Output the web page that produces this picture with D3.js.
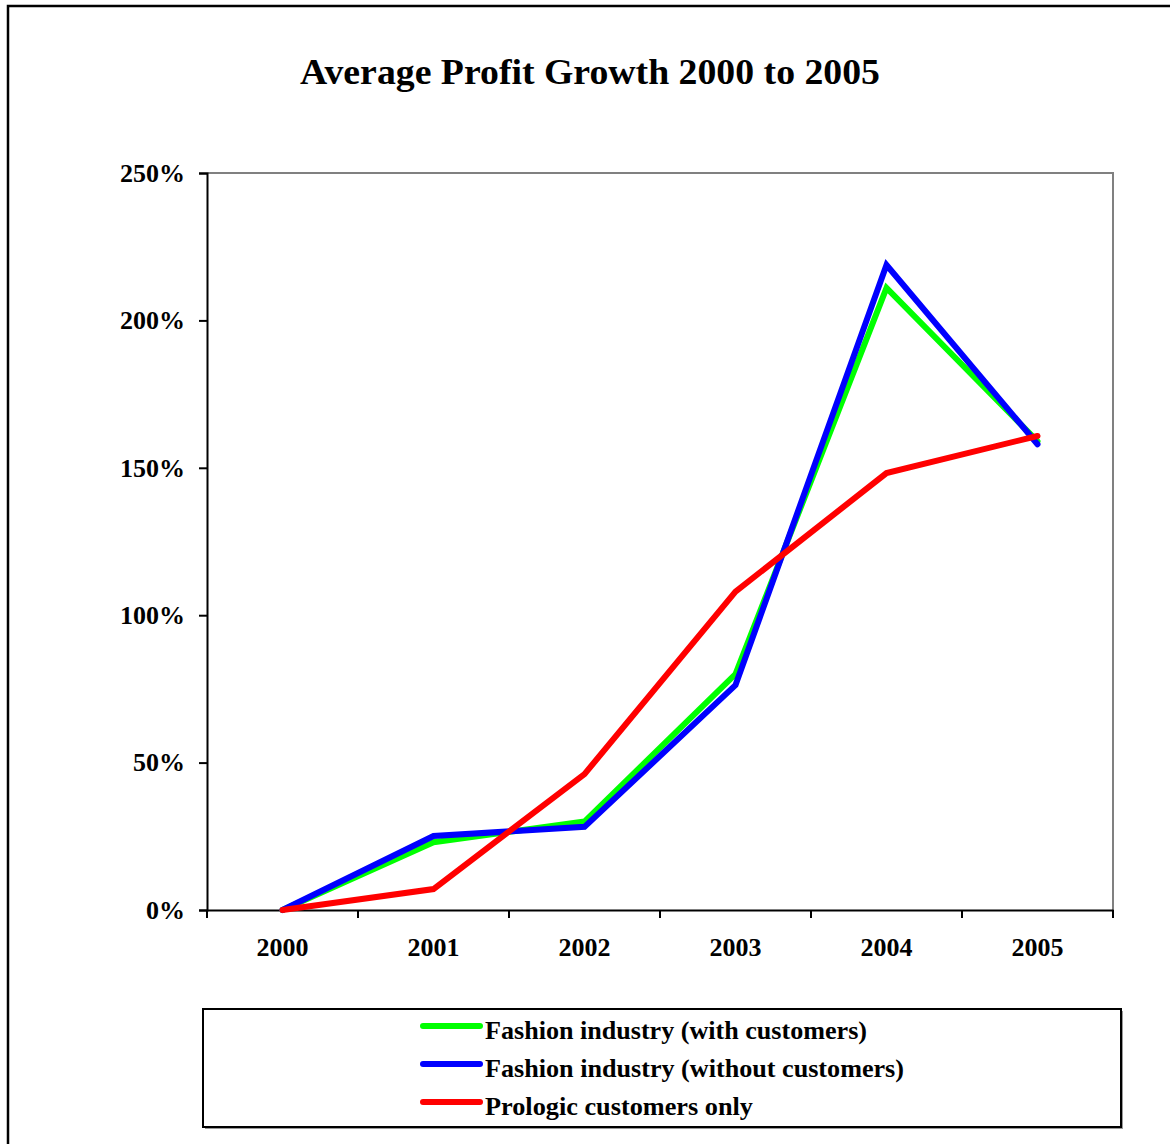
<!DOCTYPE html>
<html>
<head>
<meta charset="utf-8">
<script src="https://cdn.jsdelivr.net/npm/d3@7"></script>
<style>
  html, body { margin: 0; padding: 0; background: #fff; }
  svg { display: block; }
  svg text { font-family: "Times New Roman", Tinos, "Liberation Serif", "Nimbus Roman", FreeSerif, serif; font-weight: bold; fill: #000; }
</style>
</head>
<body>
<svg id="chart" width="1170" height="1144"></svg>
<script>
// Chart data
const years = ["2000", "2001", "2002", "2003", "2004", "2005"];
const withCustomers = [0, 0.23, 0.30, 0.80, 2.11, 1.59];
const withoutCustomers = [0, 0.251, 0.282, 0.763, 2.188, 1.58];
const prologicOnly = [0, 0.071, 0.461, 1.08, 1.482, 1.608];
const seriesNames = [
  "Fashion industry (with customers)",
  "Fashion industry (without customers)",
  "Prologic customers only"
];
const seriesColors = ["#00ff00", "#0000ff", "#ff0000"];
const yTicks = [0, 0.5, 1, 1.5, 2, 2.5];

const series = [withCustomers, withoutCustomers, prologicOnly].map((v, i) => ({
  name: seriesNames[i], color: seriesColors[i], values: v
}));

const svg = d3.select("#chart");

// Outer chart frame
svg.append("rect")
  .attr("x", 8).attr("y", 6).attr("width", 1170).attr("height", 1150)
  .attr("fill", "none").attr("stroke", "#000").attr("stroke-width", 2.5);

// Title
svg.append("text")
  .attr("x", 590).attr("y", 84)
  .attr("text-anchor", "middle")
  .attr("font-size", 36)
  .attr("textLength", 580).attr("lengthAdjust", "spacingAndGlyphs")
  .text("Average Profit Growth 2000 to 2005");

const plotLeft = 207, plotRight = 1113, plotTop = 173, plotBottom = 910;

const xBand = d3.scaleBand().domain(years).range([plotLeft, plotRight]);
const xPoint = d3.scalePoint().domain(years).range([plotLeft, plotRight]).padding(0.5);
const y = d3.scaleLinear().domain([0, 2.5]).range([plotBottom, plotTop]);

// Plot area border: grey top and right edges
svg.append("path")
  .attr("d", `M${plotLeft},${plotTop}H${plotRight}V${plotBottom}`)
  .attr("fill", "none").attr("stroke", "#808080").attr("stroke-width", 2);

// Y axis
const yAxis = svg.append("g")
  .attr("transform", `translate(${plotLeft},0)`)
  .call(d3.axisLeft(y).tickValues(yTicks).tickFormat(d3.format(".0%")).tickSize(8).tickPadding(14));
yAxis.select(".domain").attr("stroke", "#000").attr("stroke-width", 2);
yAxis.selectAll(".tick line").attr("stroke", "#000").attr("stroke-width", 2);
yAxis.selectAll(".tick text")
  .attr("font-size", 26)
  .attr("dy", "0.32em");

// X axis (labels centred on categories, tick marks at category boundaries)
const xAxis = svg.append("g")
  .attr("transform", `translate(0,${plotBottom})`)
  .call(d3.axisBottom(xBand).tickSize(0).tickPadding(28));
xAxis.select(".domain").attr("stroke", "#000").attr("stroke-width", 2);
xAxis.selectAll(".tick text")
  .attr("font-size", 26);
const boundaries = years.map(d => xBand(d)).concat([plotRight]);
svg.append("g").selectAll("line")
  .data(boundaries).join("line")
  .attr("x1", d => d).attr("x2", d => d)
  .attr("y1", plotBottom).attr("y2", plotBottom + 8)
  .attr("stroke", "#000").attr("stroke-width", 2);

// Series lines
const line = d3.line()
  .x((d, i) => xPoint(years[i]))
  .y(d => y(d));

svg.append("g").selectAll("path")
  .data(series).join("path")
  .attr("d", d => line(d.values))
  .attr("fill", "none")
  .attr("stroke", d => d.color)
  .attr("stroke-width", 6)
  .attr("stroke-linejoin", "miter")
  .attr("stroke-linecap", "round");

// Legend
const lg = svg.append("g");
lg.append("rect")
  .attr("x", 205).attr("y", 1011).attr("width", 918).attr("height", 118)
  .attr("fill", "#999");
lg.append("rect")
  .attr("x", 203).attr("y", 1009).attr("width", 918).attr("height", 118)
  .attr("fill", "#fff").attr("stroke", "#000").attr("stroke-width", 2);

const legendWidths = [382, 419, 268];
const rows = lg.selectAll("g.row")
  .data(series).join("g")
  .attr("class", "row")
  .attr("transform", (d, i) => `translate(0,${1026 + i * 38})`);
rows.append("line")
  .attr("x1", 423).attr("x2", 480).attr("y1", 0).attr("y2", 0)
  .attr("stroke", d => d.color).attr("stroke-width", 6).attr("stroke-linecap", "round");
rows.append("text")
  .attr("x", 485).attr("y", 13)
  .attr("font-size", 25)
  .attr("textLength", (d, i) => legendWidths[i]).attr("lengthAdjust", "spacingAndGlyphs")
  .text(d => d.name);
</script>
</body>
</html>
